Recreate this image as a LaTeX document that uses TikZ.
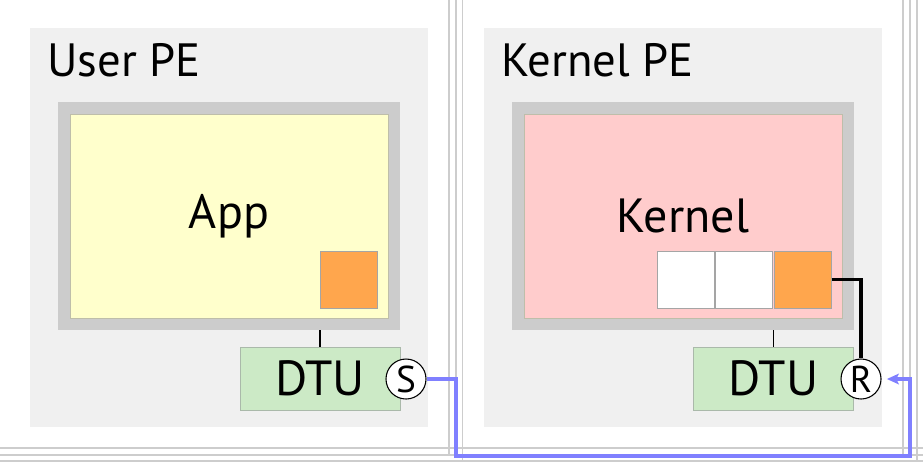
\documentclass[tikz,border=0pt]{standalone}
\usepackage{fontspec}
\setmainfont{PT Sans}
\usetikzlibrary{arrows.meta}

\begin{document}
\begin{tikzpicture}[x=0.75pt,y=0.75pt,yscale=-1,xscale=1,
    pe/.style={fill={rgb, 255:red, 240; green, 240; blue, 240}, inner sep=0pt, minimum width=398*0.75pt, minimum height=399*0.75pt},
    peframe/.style={fill={rgb, 255:red, 204; green, 204; blue, 204}, inner sep=0pt, minimum width=342*0.75pt, minimum height=228*0.75pt},
    pebox/.style={draw={rgb, 255:red, 190; green, 190; blue, 170}, line width=0.75, inner sep=0pt, minimum width=318*0.75pt, minimum height=204*0.75pt, font=\fontsize{36}{40}\selectfont},
    cell/.style={draw={rgb, 255:red, 165; green, 165; blue, 165}, fill=white, line width=0.75, inner sep=0pt, minimum size=57*0.75pt},
    dtu/.style={draw={rgb, 255:red, 170; green, 185; blue, 170}, fill={rgb, 255:red, 204; green, 234; blue, 198}, line width=0.75, inner sep=0pt, minimum width=160*0.75pt, minimum height=63*0.75pt, font=\fontsize{37}{40}\selectfont},
    ep/.style={circle, draw=black, fill=white, line width=0.8, inner sep=0pt, minimum size=40*0.75pt, font=\fontsize{28}{30}\selectfont},
    title/.style={anchor=base west, inner sep=0pt, font=\fontsize{35}{40}\selectfont},
    bus/.style={draw={rgb, 255:red, 205; green, 205; blue, 205}, line width=1},
    msg/.style={draw={rgb, 255:red, 128; green, 128; blue, 255}, line width=3, -{Stealth[length=9pt,width=8pt,inset=2pt]}, shorten >=4pt}
  ]
    \useasboundingbox (0,0) rectangle (923,462);
    
    %Straight Lines (bus)
    \draw [bus] (0,448) -- (923,448) ;
    \draw [bus] (0,455) -- (923,455) ;
    \draw [bus] (0,461) -- (923,461) ;
    \draw [bus] (449,0) -- (449,455) ;
    \draw [bus] (456,0) -- (456,455) ;
    \draw [bus] (462.5,0) -- (462.5,461) ;
    \draw [bus] (903,0) -- (903,455) ;
    \draw [bus] (910,0) -- (910,455) ;
    \draw [bus] (917,0) -- (917,461) ;
    
    %Shape: Rectangle (user PE)
    \node [pe] (upe) at (229,227.5) {};
    \node [title] (upetitle) at (47,76) {User PE};
    \node [peframe] (uframe) at (229,216) {};
    \node [pebox, fill={rgb, 255:red, 255; green, 255; blue, 204}] (app) at (229,216) {App};
    \node [cell, fill={rgb, 255:red, 255; green, 166; blue, 77}] (ubuf) at (348.5,279.5) {};
    \node [dtu] (udtu) at (320,378.5) {DTU};
    \node [ep] (us) at (406,379) {S};
    
    %Shape: Rectangle (kernel PE)
    \node [pe] (kpe) at (683,227.5) {};
    \node [title] (kpetitle) at (501,76) {Kernel PE};
    \node [peframe] (kframe) at (683,216) {};
    \node [pebox, fill={rgb, 255:red, 255; green, 204; blue, 204}] (kernel) at (683,216) {Kernel};
    \node [cell] (kq1) at (685.5,279.5) {};
    \node [cell] (kq2) at (744,279.5) {};
    \node [cell, fill={rgb, 255:red, 255; green, 166; blue, 77}] (kq3) at (802.5,279.5) {};
    \node [dtu] (kdtu) at (773.5,378.5) {DTU};
    \node [ep] (kr) at (861,379) {R};
    
    %Straight Lines
    \draw [line width=1.3] (udtu.north) -- (udtu.north |- uframe.south) ;
    \draw [line width=1.3] (kdtu.north) -- (kdtu.north |- kframe.south) ;
    \draw [line width=2.7] (kq3.east) -| (kr.north) ;
    
    %Straight Lines (message)
    \coordinate (busl) at (456,455.5);
    \coordinate (busr) at (909.5,455.5);
    \draw [msg] (us.east) -| (busl) -- (busr) |- (kr.east) ;
    
\end{tikzpicture}
\end{document}
